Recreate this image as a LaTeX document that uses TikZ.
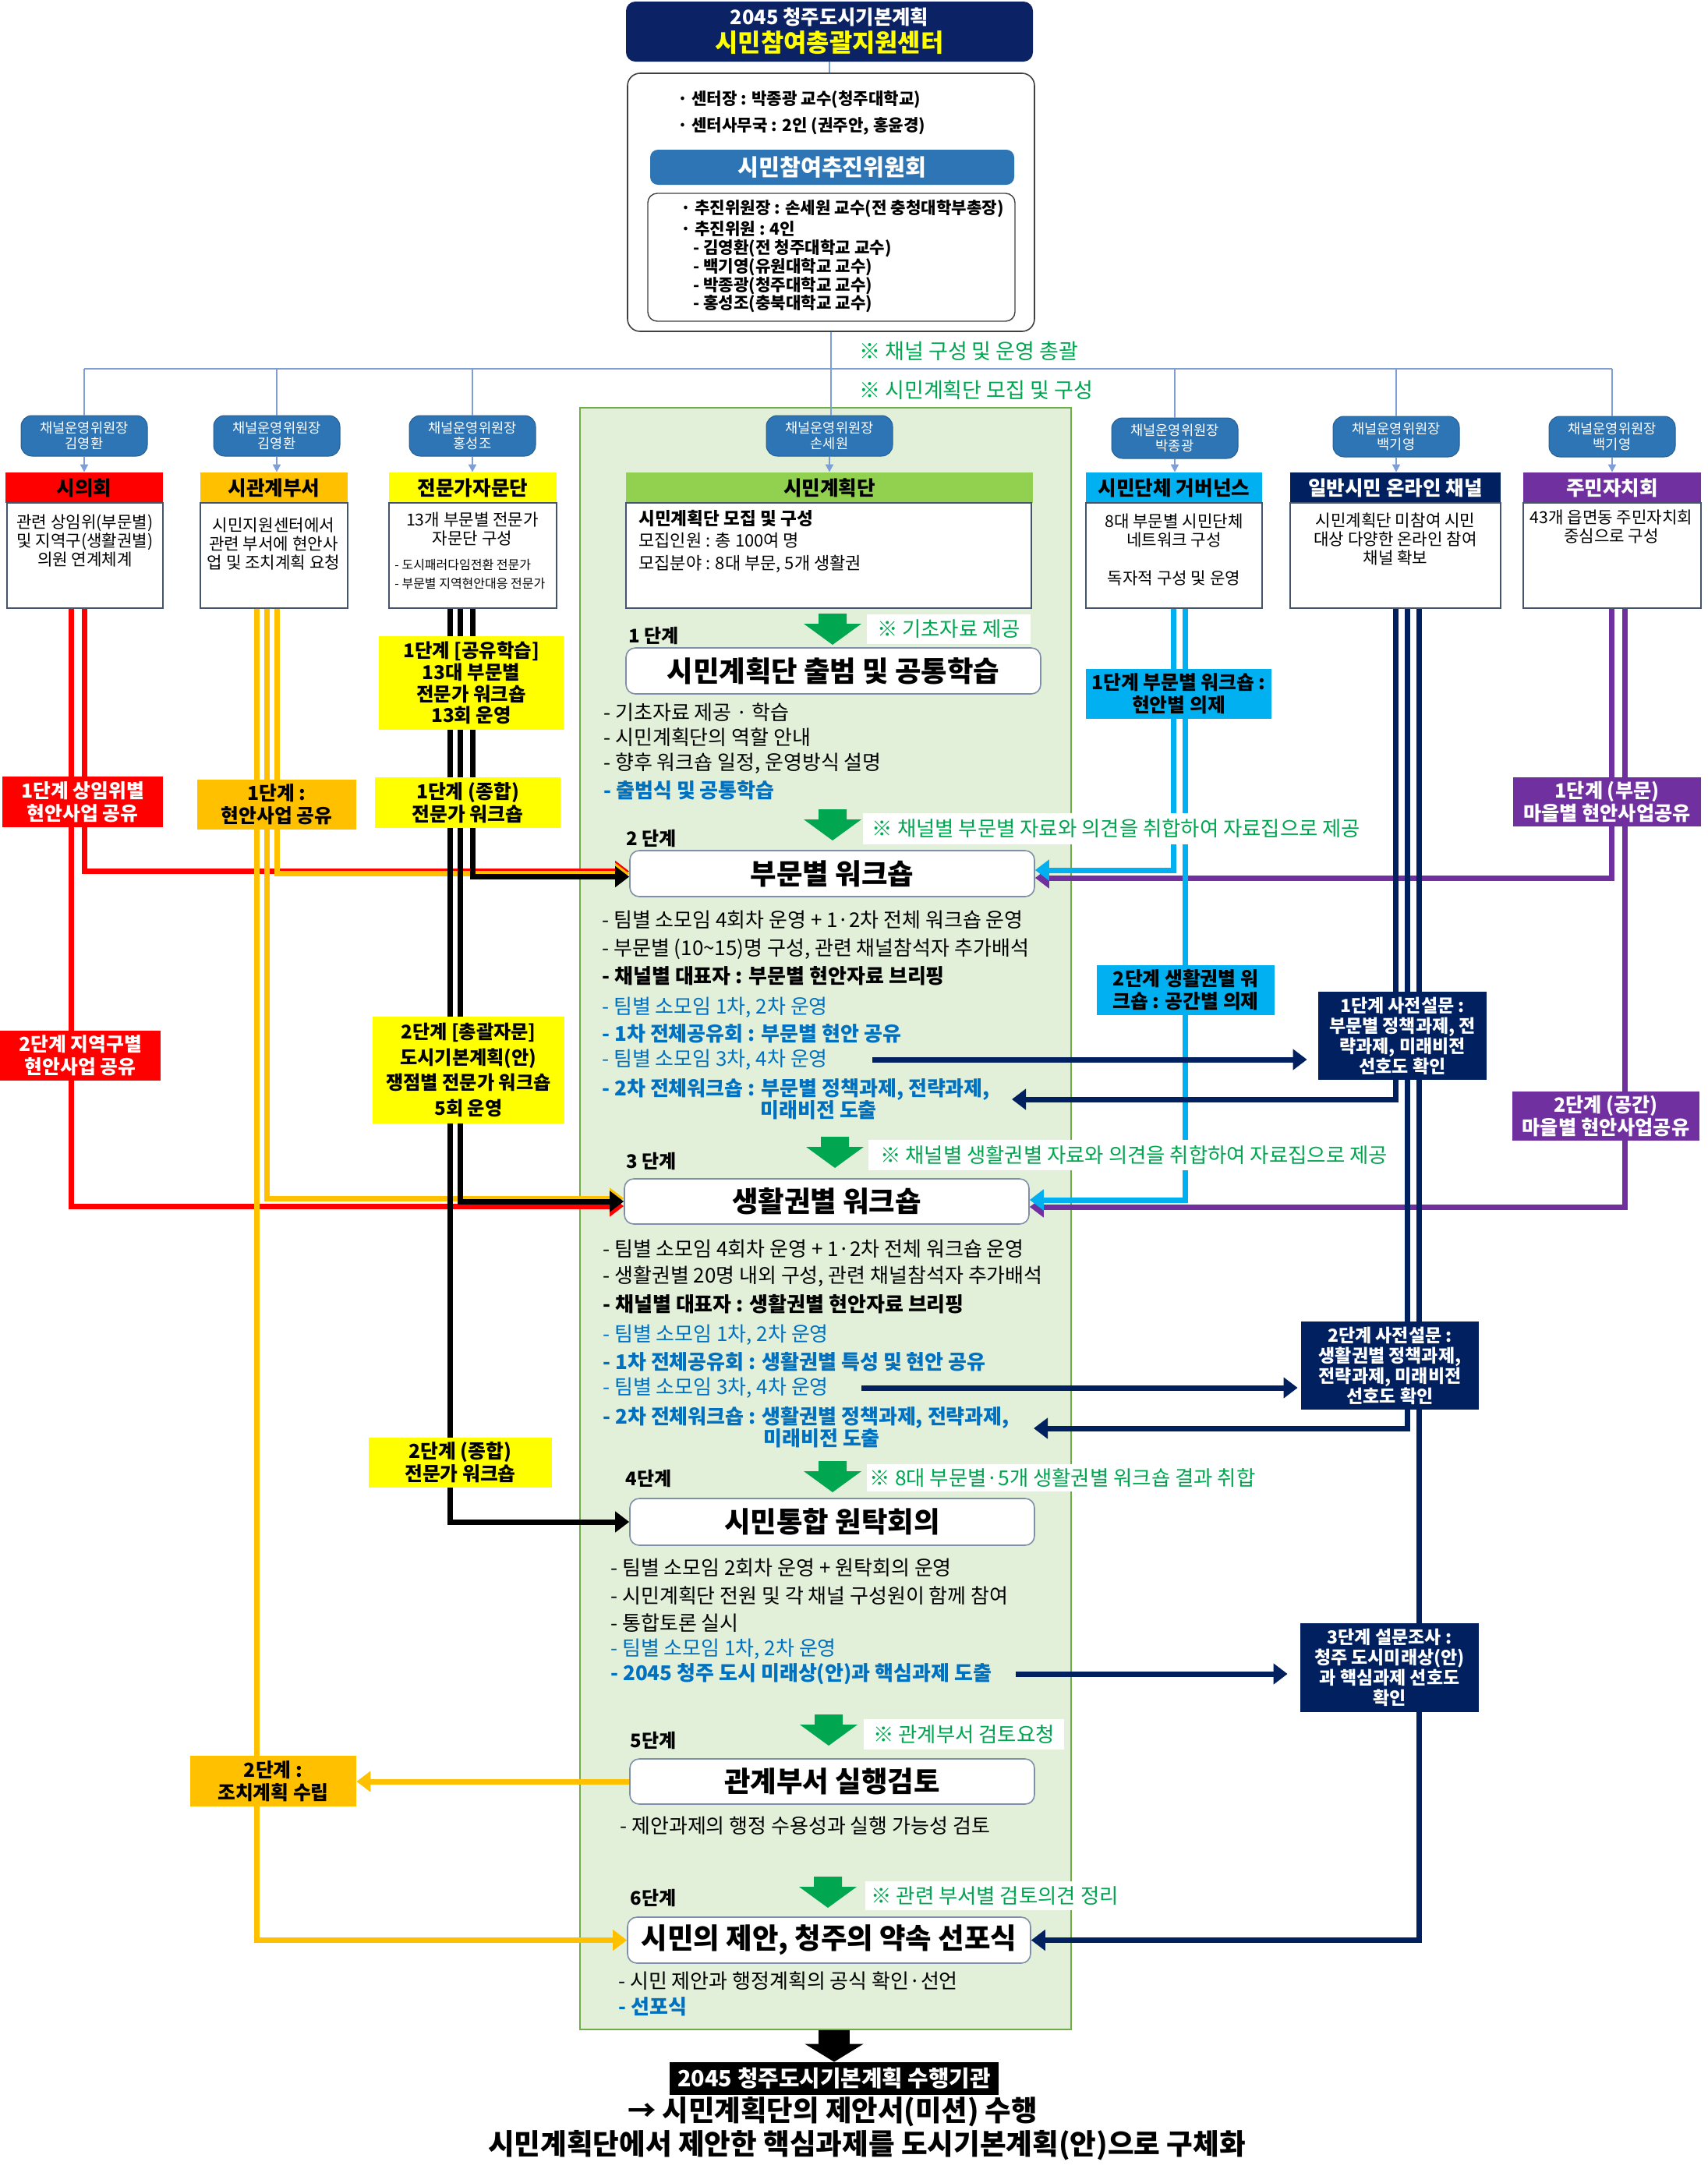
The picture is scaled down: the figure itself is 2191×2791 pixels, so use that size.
\documentclass[tikz,border=0pt]{standalone}
\usepackage{fontspec}
\setmainfont{Noto Sans CJK KR}
\usetikzlibrary{arrows.meta}
\definecolor{navy}{HTML}{002060}
\definecolor{titlenavy}{HTML}{0B2265}
\definecolor{chairblue}{HTML}{2E75B6}
\definecolor{cred}{HTML}{FF0000}
\definecolor{corange}{HTML}{FFC000}
\definecolor{cyellow}{HTML}{FFFF00}
\definecolor{cgreenh}{HTML}{92D050}
\definecolor{cblue}{HTML}{00B0F0}
\definecolor{cpurple}{HTML}{7030A0}
\definecolor{panelfill}{HTML}{E2F0D9}
\definecolor{panelline}{HTML}{70AD47}
\definecolor{txtblue}{HTML}{0070C0}
\definecolor{notegreen}{HTML}{00A550}
\definecolor{arrowgreen}{HTML}{00A650}
\definecolor{connblue}{HTML}{7F9ED6}
\definecolor{boxline}{HTML}{44546A}
\definecolor{stageline}{HTML}{7F8FA9}
\newcommand\myfs[2]{\fontsize{#1}{#2}\selectfont}
\newcommand\mybox[7][]{%
  \pgfmathsetmacro\mbcx{(#3+#5)/2}%
  \pgfmathsetmacro\mbcy{(#4+#6)/2}%
  \pgfmathsetmacro\mbw{(#5-#3)/2}%
  \pgfmathsetmacro\mbh{(#6-#4)/2}%
  \node[inner sep=0pt,minimum width=\mbw pt,minimum height=\mbh pt,#1] (#2) at (\mbcx,\mbcy) {#7};%
}
\newcommand\garrow[2]{%
  \fill[arrowgreen] (#1-18,#2) -- (#1+18,#2) -- (#1+18,#2+13) -- (#1+37,#2+13) -- (#1,#2+40) -- (#1-37,#2+13) -- (#1-18,#2+13) -- cycle;}
\tikzset{
  conn/.style={draw=connblue,line width=1pt},
  connarr/.style={conn,-{Triangle[length=5pt,width=5pt]}},
  chairbox/.style={fill=chairblue,draw=chairblue!80!black,line width=0.5pt,rounded corners=7pt,text=white,align=center,font=\myfs{8.8}{10}},
  hdrbox/.style={font=\myfs{12.8}{14}\bfseries,align=center},
  descbox/.style={draw=boxline,line width=0.7pt,fill=white},
  dtext/.style={font=\myfs{10.6}{12}\selectfont,align=center,inner sep=0pt},
  labbox/.style={font=\myfs{12.4}{14.5}\bfseries,align=center},
  navbox/.style={fill=navy,text=white,font=\myfs{11.5}{13}\bfseries,align=center},
  stagebox/.style={draw=stageline,line width=0.8pt,fill=white,rounded corners=6pt,font=\myfs{18.2}{20}\bfseries},
  stagelab/.style={font=\myfs{12}{13}\bfseries,anchor=west,inner sep=0pt},
  bul/.style={font=\myfs{13}{14},anchor=west,inner sep=0pt},
  bulb/.style={font=\myfs{13}{14}\bfseries,anchor=west,inner sep=0pt},
  bbl/.style={font=\myfs{13}{14},anchor=west,inner sep=0pt,text=txtblue},
  bblb/.style={font=\myfs{13}{14}\bfseries,anchor=west,inner sep=0pt,text=txtblue},
  notebox/.style={fill=white,text=notegreen,font=\myfs{13.2}{14}},
  infotext/.style={font=\myfs{10.6}{12}\bfseries,anchor=west,inner sep=0pt},
  chl/.style={line width=3.5pt},
  arrtip/.style={-{Triangle[length=9pt,width=13pt]}},
}
\begin{document}
\begin{tikzpicture}[x=0.5pt,y=-0.5pt]
\useasboundingbox (0,0) rectangle (2191,2791);
\fill[white] (0,0) rectangle (2191,2791);

% green panel
\mybox[draw=panelline,fill=panelfill,line width=0.6pt]{panel}{744}{523}{1374}{2603}{}

% title
\mybox[fill=titlenavy,rounded corners=6pt]{title}{803}{2}{1325}{79}{}
\node[text=white,font=\myfs{12.7}{14}\bfseries] (tt1) at (1064,22) {2045 청주도시기본계획};
\node[text=cyellow,font=\myfs{15.9}{17}\bfseries] (tt2) at (1064,55) {시민참여총괄지원센터};

% info box
\mybox[draw=black!75,line width=0.8pt,rounded corners=8pt,fill=white]{infobox}{805}{94}{1327}{425}{}
\node[infotext] (i1) at (869,128) {· 센터장 : 박종광 교수(청주대학교)};
\node[infotext] (i2) at (869,162) {· 센터사무국 : 2인 (권주안, 홍윤경)};
\mybox[fill=chairblue,rounded corners=5pt,text=white,font=\myfs{14.6}{16}\bfseries]{committee}{834}{192}{1301}{237}{시민참여추진위원회}
\mybox[draw=black!75,line width=0.7pt,rounded corners=6pt,fill=white]{inner}{831}{248}{1302}{412}{}
\node[infotext] (i3) at (873,268) {· 추진위원장 : 손세원 교수(전 충청대학부총장)};
\node[infotext] (i4) at (873,294) {· 추진위원 : 4인};
\node[infotext] (i5) at (889,319) {- 김영환(전 청주대학교 교수)};
\node[infotext] (i6) at (889,343) {- 백기영(유원대학교 교수)};
\node[infotext] (i7) at (889,367) {- 박종광(청주대학교 교수)};
\node[infotext] (i8) at (889,390) {- 홍성조(충북대학교 교수)};

% top green notes
\node[anchor=west,inner sep=0pt,text=notegreen,font=\myfs{13.5}{14}] (gn1) at (1102,450) {※ 채널 구성 및 운영 총괄};
\node[anchor=west,inner sep=0pt,text=notegreen,font=\myfs{13.5}{14}] (gn2) at (1102,500) {※ 시민계획단 모집 및 구성};

% chair boxes
\mybox[chairbox]{ch1}{27}{533}{189}{585}{채널운영위원장\\김영환}
\mybox[chairbox]{ch2}{274}{533}{436}{585}{채널운영위원장\\김영환}
\mybox[chairbox]{ch3}{525}{533}{687}{585}{채널운영위원장\\홍성조}
\mybox[chairbox]{ch4}{983}{533}{1145}{585}{채널운영위원장\\손세원}
\mybox[chairbox]{ch5}{1426}{536}{1588}{588}{채널운영위원장\\박종광}
\mybox[chairbox]{ch6}{1710}{534}{1872}{586}{채널운영위원장\\백기영}
\mybox[chairbox]{ch7}{1987}{534}{2149}{586}{채널운영위원장\\백기영}

% headers
\mybox[fill=cred,hdrbox]{h1}{7}{606}{209}{645}{시의회}
\mybox[fill=corange,hdrbox]{h2}{257}{606}{446}{645}{시관계부서}
\mybox[fill=cyellow,hdrbox]{h3}{499}{606}{714}{645}{전문가자문단}
\mybox[fill=cgreenh,hdrbox]{h4}{803}{606}{1325}{645}{시민계획단}
\mybox[fill=cblue,hdrbox]{h5}{1393}{606}{1619}{645}{시민단체 거버넌스}
\mybox[fill=navy,hdrbox,text=white]{h6}{1655}{606}{1925}{645}{일반시민 온라인 채널}
\mybox[fill=cpurple,hdrbox,text=white]{h7}{1954}{606}{2182}{645}{주민자치회}

% description boxes
\mybox[descbox]{d1}{9}{645}{209}{780}{}
\mybox[descbox]{d2}{257}{645}{446}{780}{}
\mybox[descbox]{d3}{499}{645}{714}{780}{}
\mybox[descbox]{d4}{803}{645}{1323}{780}{}
\mybox[descbox]{d5}{1393}{645}{1619}{780}{}
\mybox[descbox]{d6}{1655}{645}{1925}{780}{}
\mybox[descbox]{d7}{1954}{645}{2182}{780}{}
\node[dtext] (dt1) at (109,694) {관련 상임위(부문별)\\및 지역구(생활권별)\\의원 연계체계};
\node[dtext] (dt2) at (351,698) {시민지원센터에서\\관련 부서에 현안사\\업 및 조치계획 요청};
\node[dtext] (dt3) at (606,679) {13개 부문별 전문가\\자문단 구성};
\node[font=\myfs{8}{12},align=left,anchor=west,inner sep=0pt] (dt3b) at (506,736) {- 도시패러다임전환 전문가\\- 부문별 지역현안대응 전문가};
\node[font=\myfs{11.3}{12}\bfseries,anchor=west,inner sep=0pt] (dt4a) at (819,665) {시민계획단 모집 및 구성};
\node[font=\myfs{11}{12},anchor=west,inner sep=0pt] (dt4b) at (819,693) {모집인원 : 총 100여 명};
\node[font=\myfs{11}{12},anchor=west,inner sep=0pt] (dt4c) at (819,723) {모집분야 : 8대 부문, 5개 생활권};
\node[dtext] (dt5) at (1506,681) {8대 부문별 시민단체\\네트워크 구성};
\node[dtext] (dt5b) at (1506,742) {독자적 구성 및 운영};
\node[dtext] (dt6) at (1790,691) {시민계획단 미참여 시민\\대상 다양한 온라인 참여\\채널 확보};
\node[dtext] (dt7) at (2067,676) {43개 읍면동 주민자치회\\중심으로 구성};

% top connectors
\coordinate (hl) at (108,473);
\coordinate (hr) at (2068,473);
\draw[conn] (title.south) -- (title.south |- infobox.north);
\draw[conn] (infobox.south) -- (infobox.south |- ch4.north);
\draw[conn] (hl) -- (hr);
\foreach \i in {1,2,3,5,6,7}{
  \draw[conn] (ch\i.north |- hl) -- (ch\i.north);
}
\foreach \i in {1,...,7}{
  \draw[connarr] (ch\i.south) -- (ch\i.south |- h\i.north);
}

% stage boxes
\mybox[stagebox]{s1}{803}{831}{1335}{890}{시민계획단 출범 및 공통학습}
\mybox[stagebox]{s2}{808}{1091}{1327}{1150}{부문별 워크숍}
\mybox[stagebox]{s3}{801}{1512}{1320}{1570}{생활권별 워크숍}
\mybox[stagebox]{s4}{808}{1922}{1327}{1982}{시민통합 원탁회의}
\mybox[stagebox]{s5}{808}{2256}{1327}{2314}{관계부서 실행검토}
\mybox[stagebox]{s6}{805}{2459}{1322}{2518}{시민의 제안, 청주의 약속 선포식}

\node[stagelab] (sl1) at (806,815) {1 단계};
\node[stagelab] (sl2) at (803,1075) {2 단계};
\node[stagelab] (sl3) at (803,1489) {3 단계};
\node[stagelab] (sl4) at (802,1896) {4단계};
\node[stagelab] (sl5) at (808,2232) {5단계};
\node[stagelab] (sl6) at (808,2434) {6단계};

% bullets stage 1
\node[bul] (b11) at (774,914) {- 기초자료 제공 · 학습};
\node[bul] (b12) at (774,946) {- 시민계획단의 역할 안내};
\node[bul] (b13) at (774,979) {- 향후 워크숍 일정, 운영방식 설명};
\node[bblb] (b14) at (774,1014) {- 출범식 및 공통학습};
% stage 2
\node[bul] (b21) at (772,1180) {- 팀별 소모임 4회차 운영 + 1·2차 전체 워크숍 운영};
\node[bul] (b22) at (772,1217) {- 부문별 (10\textasciitilde 15)명 구성, 관련 채널참석자 추가배석};
\node[bulb] (b23) at (772,1252) {- 채널별 대표자 : 부문별 현안자료 브리핑};
\node[bbl] (b24) at (772,1292) {- 팀별 소모임 1차, 2차 운영};
\node[bblb] (b25) at (772,1326) {- 1차 전체공유회 : 부문별 현안 공유};
\node[bbl] (b26) at (772,1359) {- 팀별 소모임 3차, 4차 운영};
\node[bblb] (b27) at (772,1397) {- 2차 전체워크숍 : 부문별 정책과제, 전략과제,};
\node[bblb] (b28) at (975,1424) {미래비전 도출};
% stage 3
\node[bul] (b31) at (773,1602) {- 팀별 소모임 4회차 운영 + 1·2차 전체 워크숍 운영};
\node[bul] (b32) at (773,1637) {- 생활권별 20명 내외 구성, 관련 채널참석자 추가배석};
\node[bulb] (b33) at (773,1673) {- 채널별 대표자 : 생활권별 현안자료 브리핑};
\node[bbl] (b34) at (773,1712) {- 팀별 소모임 1차, 2차 운영};
\node[bblb] (b35) at (773,1747) {- 1차 전체공유회 : 생활권별 특성 및 현안 공유};
\node[bbl] (b36) at (773,1780) {- 팀별 소모임 3차, 4차 운영};
\node[bblb] (b37) at (773,1818) {- 2차 전체워크숍 : 생활권별 정책과제, 전략과제,};
\node[bblb] (b38) at (979,1845) {미래비전 도출};
% stage 4
\node[bul] (b41) at (783,2011) {- 팀별 소모임 2회차 운영 + 원탁회의 운영};
\node[bul] (b42) at (783,2047) {- 시민계획단 전원 및 각 채널 구성원이 함께 참여};
\node[bul] (b43) at (783,2082) {- 통합토론 실시};
\node[bbl] (b44) at (783,2115) {- 팀별 소모임 1차, 2차 운영};
\node[bblb] (b45) at (783,2147) {- 2045 청주 도시 미래상(안)과 핵심과제 도출};
% stage 5, 6
\node[bul] (b51) at (795,2342) {- 제안과제의 행정 수용성과 실행 가능성 검토};
\node[bul] (b61) at (793,2541) {- 시민 제안과 행정계획의 공식 확인·선언};
\node[bblb] (b62) at (793,2574) {- 선포식};

% green flow arrows
\garrow{1068}{787}
\garrow{1068}{1038}
\garrow{1071}{1458}
\garrow{1068}{1874}
\garrow{1063}{2199}
\garrow{1062}{2407}

% channel x positions
\coordinate (xr1) at (108,0);  \coordinate (xr2) at (91,0);
\coordinate (xo1) at (355,0);  \coordinate (xo2) at (342,0);  \coordinate (xo3) at (329,0);
\coordinate (xk1) at (606,0);  \coordinate (xk2) at (590,0);  \coordinate (xk3) at (577,0);
\coordinate (xb1) at (1505,0); \coordinate (xb2) at (1520,0);
\coordinate (xn1) at (1790,0); \coordinate (xn2) at (1805,0); \coordinate (xn3) at (1820,0);
\coordinate (xp1) at (2067,0); \coordinate (xp2) at (2084,0);

% red
\draw[chl,cred,arrtip] (d1.south -| xr1) |- ([yshift=1.5pt]s2.west);
\draw[chl,cred,arrtip] (d1.south -| xr2) |- ([yshift=-3pt]s3.west);
% orange
\draw[chl,corange,arrtip] (d2.south -| xo1) |- (s2.west);
\draw[chl,corange,arrtip] (d2.south -| xo2) |- ([yshift=2pt]s3.west);
\draw[chl,corange,arrtip] (d2.south -| xo3) |- (s6.west);
% black
\draw[chl,black,arrtip] (d3.south -| xk1) |- ([yshift=-2pt]s2.west);
\draw[chl,black,arrtip] (d3.south -| xk2) |- (s3.west);
\draw[chl,black,arrtip] (d3.south -| xk3) |- (s4.west);
% purple
\draw[chl,cpurple,arrtip] (d7.south -| xp1) |- ([yshift=-2.75pt]s2.east);
\draw[chl,cpurple,arrtip] (d7.south -| xp2) |- ([yshift=-3.5pt]s3.east);
% light blue
\draw[chl,cblue,arrtip] (d5.south -| xb1) |- ([yshift=2.25pt]s2.east);
\draw[chl,cblue,arrtip] (d5.south -| xb2) |- ([yshift=1pt]s3.east);
% navy
\coordinate (nb) at (1298,1410);
\coordinate (nd) at (1326,1832);
\draw[chl,navy,arrtip] (d6.south -| xn1) |- (nb);
\draw[chl,navy,arrtip] (d6.south -| xn2) |- (nd);
\draw[chl,navy,arrtip] (d6.south -| xn3) |- (s6.east);

% labels on the lines
\mybox[fill=cred,labbox,text=white]{r1}{3}{996}{209}{1061}{1단계 상임위별\\현안사업 공유}
\mybox[fill=cred,labbox,text=white]{r2}{0}{1322}{206}{1386}{2단계 지역구별\\현안사업 공유}
\mybox[fill=corange,labbox]{o1}{253}{1000}{457}{1064}{1단계 :\\현안사업 공유}
\mybox[fill=corange,labbox]{o2}{244}{2252}{457}{2317}{2단계 :\\조치계획 수립}
\mybox[fill=cyellow,labbox,font=\myfs{12.2}{13.8}\bfseries]{k1}{486}{816}{723}{936}{1단계 [공유학습]\\13대 부문별\\전문가 워크숍\\13회 운영}
\mybox[fill=cyellow,labbox]{k2}{481}{997}{719}{1062}{1단계 (종합)\\전문가 워크숍}
\mybox[fill=cyellow,labbox,font=\myfs{12.1}{16.4}\bfseries]{k3}{478}{1304}{724}{1441}{2단계 [총괄자문]\\도시기본계획(안)\\쟁점별 전문가 워크숍\\5회 운영}
\mybox[fill=cyellow,labbox]{k4}{473}{1844}{708}{1908}{2단계 (종합)\\전문가 워크숍}
\mybox[fill=cblue,labbox]{bl1}{1393}{858}{1631}{922}{1단계 부문별 워크숍 :\\현안별 의제}
\mybox[fill=cblue,labbox]{bl2}{1407}{1238}{1635}{1302}{2단계 생활권별 워\\크숍 : 공간별 의제}
\mybox[navbox]{nv1}{1691}{1272}{1907}{1385}{1단계 사전설문 :\\부문별 정책과제, 전\\략과제, 미래비전\\선호도 확인}
\mybox[navbox]{nv2}{1669}{1695}{1897}{1808}{2단계 사전설문 :\\생활권별 정책과제,\\전략과제, 미래비전\\선호도 확인}
\mybox[navbox]{nv3}{1668}{2082}{1897}{2196}{3단계 설문조사 :\\청주 도시미래상(안)\\과 핵심과제 선호도\\확인}
\mybox[fill=cpurple,labbox,font=\myfs{12.6}{14.5}\bfseries,text=white]{p1}{1941}{997}{2182}{1060}{1단계 (부문)\\마을별 현안사업공유}
\mybox[fill=cpurple,labbox,font=\myfs{12.6}{14.5}\bfseries,text=white]{p2}{1940}{1400}{2180}{1463}{2단계 (공간)\\마을별 현안사업공유}

% arrows from bullets to surveys
\coordinate (na) at (1119,1359);
\coordinate (nc) at (1105,1780);
\coordinate (ne) at (1303,2147);
\draw[chl,navy,arrtip,shorten >=7pt] (na) -- (na -| nv1.west);
\draw[chl,navy,arrtip,shorten >=2pt] (nc) -- (nc -| nv2.west);
\draw[chl,navy,arrtip,shorten >=8pt] (ne) -- (ne -| nv3.west);
% stage 5 to orange label
\draw[chl,corange,arrtip] (s5.west) -- (s5.west -| o2.east);

% green notes
\mybox[notebox]{g1}{1112}{788}{1322}{826}{※ 기초자료 제공}
\mybox[notebox]{g2}{1107}{1043}{1757}{1083}{※ 채널별 부문별 자료와 의견을 취합하여 자료집으로 제공}
\mybox[notebox]{g3}{1114}{1462}{1795}{1501}{※ 채널별 생활권별 자료와 의견을 취합하여 자료집으로 제공}
\mybox[notebox]{g4}{1112}{1878}{1614}{1913}{※ 8대 부문별·5개 생활권별 워크숍 결과 취합}
\mybox[notebox]{g5}{1108}{2205}{1365}{2244}{※ 관계부서 검토요청}
\mybox[notebox]{g6}{1110}{2413}{1442}{2450}{※ 관련 부서별 검토의견 정리}

% bottom
\mybox[fill=black,text=white,font=\myfs{14.4}{16}\bfseries]{final}{859}{2645}{1281}{2687}{2045 청주도시기본계획 수행기관}
\draw[line width=20pt,-{Triangle[length=11.5pt,width=37pt]}] (panel.south -| final.north) -- (final.north);
\node[font=\myfs{18.2}{20}\bfseries] (ft1) at (1068,2709) {→ 시민계획단의 제안서(미션) 수행};
\node[font=\myfs{18.3}{20}\bfseries] (ft2) at (1112,2752) {시민계획단에서 제안한 핵심과제를 도시기본계획(안)으로 구체화};
\end{tikzpicture}
\end{document}
